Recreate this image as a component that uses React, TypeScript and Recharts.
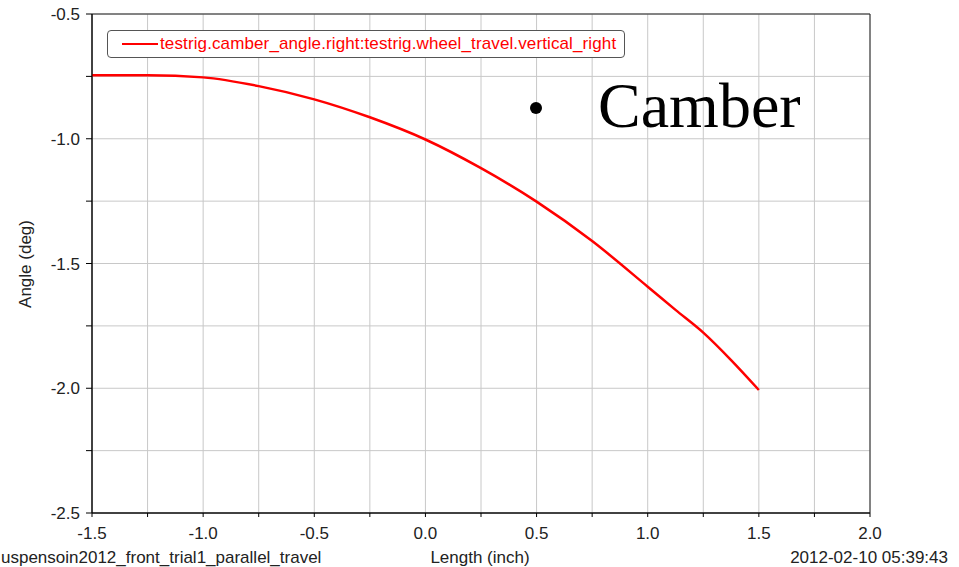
import {
  LineChart,
  Line,
  XAxis,
  YAxis,
  CartesianGrid,
  ReferenceArea,
  Legend,
} from "recharts";

const seriesName = "testrig.camber_angle.right:testrig.wheel_travel.vertical_right";
const wheelTravel = [-1.5, -1.25, -1.0, -0.75, -0.5, -0.25, 0.0, 0.25, 0.5, 0.75, 1.0, 1.125, 1.25, 1.375, 1.5];
const camberAngle = [-0.745, -0.745, -0.754, -0.789, -0.842, -0.914, -1.003, -1.118, -1.252, -1.41, -1.593, -1.686, -1.777, -1.887, -2.007];
const xTicks = [-1.5, -1.25, -1.0, -0.75, -0.5, -0.25, 0.0, 0.25, 0.5, 0.75, 1.0, 1.25, 1.5, 1.75, 2.0];
const yTicks = [-2.5, -2.25, -2.0, -1.75, -1.5, -1.25, -1.0, -0.75, -0.5];

const data = wheelTravel.map((x, i) => ({ x, camber: camberAngle[i] }));

const SANS = "'Liberation Sans', Arial, sans-serif";

// labels only on the half units, minor ticks stay blank
const halfLabel = (v: number) => (Math.abs(v * 2 - Math.round(v * 2)) < 1e-6 ? v.toFixed(1) : "");

function LegendBox() {
  return (
    <div
      style={{
        display: "flex",
        alignItems: "center",
        border: "1px solid #555",
        borderRadius: 4,
        background: "#fff",
        height: 26,
        padding: "0 8px 0 14px",
        fontFamily: SANS,
        fontSize: 17,
        letterSpacing: 0.12,
        color: "#ff0000",
        whiteSpace: "nowrap",
      }}
    >
      <span style={{ display: "inline-block", width: 36, height: 2, background: "#ff0000", marginRight: 2 }} />
      {seriesName}
    </div>
  );
}

export default function App() {
  return (
    <div style={{ position: "relative", width: 959, height: 567, background: "#fff", fontFamily: SANS }}>
      <style>{"body { margin: 0; }"}</style>
      <LineChart width={959} height={567} data={data} margin={{ top: 14, right: 89, bottom: 0, left: 0 }}>
        <CartesianGrid stroke="#c8c8c8" strokeWidth={1} />
        <XAxis
          dataKey="x"
          type="number"
          domain={[-1.5, 2.0]}
          ticks={xTicks}
          tickFormatter={halfLabel}
          interval={0}
          height={54}
          tickSize={4}
          tickMargin={10}
          stroke="#000"
          tick={{ fontSize: 17, fill: "#222", fontFamily: SANS }}
        />
        <YAxis
          type="number"
          domain={[-2.5, -0.5]}
          ticks={yTicks}
          tickFormatter={halfLabel}
          interval={0}
          width={92}
          tickSize={6}
          tickMargin={6}
          stroke="#000"
          tick={{ fontSize: 17, fill: "#222", fontFamily: SANS }}
        />
        <ReferenceArea x1={-1.5} x2={2.0} y1={-2.5} y2={-0.5} fill="none" stroke="#222" strokeWidth={1} />
        <Legend
          layout="horizontal"
          verticalAlign="middle"
          align="center"
          content={() => <LegendBox />}
          wrapperStyle={{ position: "absolute", top: 30, left: 107, width: "auto", height: "auto" }}
        />
        <Line
          dataKey="camber"
          name={seriesName}
          type="monotone"
          stroke="#ff0000"
          strokeWidth={2.5}
          dot={false}
          isAnimationActive={false}
        />
      </LineChart>
      <svg
        width={959}
        height={567}
        style={{ position: "absolute", left: 0, top: 0, pointerEvents: "none" }}
      >
        <text x={25} y={264} transform="rotate(-90 25 264)" textAnchor="middle" dominantBaseline="central" fontSize={17} fill="#222" fontFamily={SANS}>
          Angle (deg)
        </text>
        <text x={480} y={563} textAnchor="middle" fontSize={17} fill="#222" fontFamily={SANS}>
          Length (inch)
        </text>
        <text x={1} y={563} fontSize={17} fill="#222" fontFamily={SANS}>
          uspensoin2012_front_trial1_parallel_travel
        </text>
        <text x={948} y={563} textAnchor="end" fontSize={17} fill="#222" fontFamily={SANS}>
          2012-02-10 05:39:43
        </text>
        <circle cx={536} cy={108} r={6} fill="#000" />
        <text x={598} y={127} fontSize={64} fill="#000" fontFamily="'Liberation Serif', 'DejaVu Serif', serif">
          Camber
        </text>
      </svg>
    </div>
  );
}
